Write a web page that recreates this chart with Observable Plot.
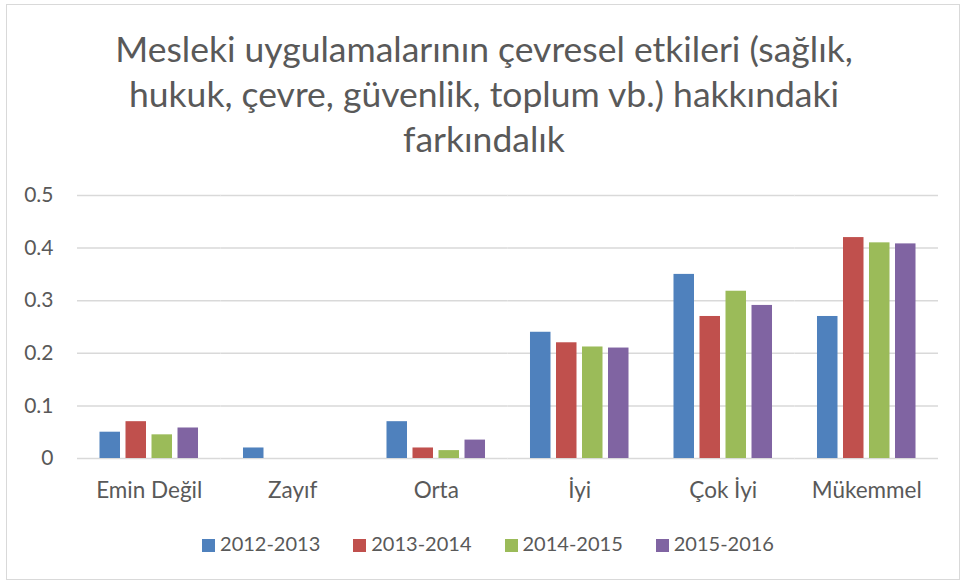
<!DOCTYPE html>
<html><head><meta charset="utf-8">
<script src="https://cdn.jsdelivr.net/npm/d3@7"></script>
<script src="https://cdn.jsdelivr.net/npm/@observablehq/plot@0.6"></script>
<style>
body{margin:0;background:#fff;}
#wrap{position:relative;width:962px;height:581px;font-family:Lato,sans-serif;color:#595959;overflow:hidden;background:#fff}
#frame{position:absolute;left:6px;top:4px;width:954px;height:576px;border:1.5px solid #d9d9d9;box-sizing:border-box}
#title{position:absolute;left:3px;top:26px;width:962px;text-align:center;font-size:35.5px;line-height:45px;}
#chart{position:absolute;left:0;top:175px}
#legend{position:absolute;left:7px;width:962px;top:530px;display:flex;justify-content:center;gap:33px;font-size:20px;line-height:26px}
#legend .sw{display:inline-block;width:13px;height:13px;margin-right:5px;vertical-align:-1px}
</style></head>
<body>
<div id="wrap">
  <div id="frame"></div>
  <div id="title"></div>
  <div id="chart"></div>
  <div id="legend"></div>
</div>
<script>
const titleLines = ["Mesleki uygulamalarının çevresel etkileri (sağlık,", "hukuk, çevre, güvenlik, toplum vb.) hakkındaki", "farkındalık"];
const categories = ["Emin Değil", "Zayıf", "Orta", "İyi", "Çok İyi", "Mükemmel"];
const years = ["2012-2013", "2013-2014", "2014-2015", "2015-2016"];
const values2012 = [0.05, 0.02, 0.07, 0.24, 0.35, 0.27];
const values2013 = [0.07, 0, 0.02, 0.22, 0.27, 0.42];
const values2014 = [0.045, 0, 0.015, 0.212, 0.318, 0.41];
const values2015 = [0.058, 0, 0.035, 0.21, 0.291, 0.408];
const yTicks = [0, 0.1, 0.2, 0.3, 0.4, 0.5];
const colors = ["#4F81BD", "#C0504D", "#9BBB59", "#8064A2"];

const series = [values2012, values2013, values2014, values2015];
const rows = [];
categories.forEach((c, i) => series.forEach((s, j) => rows.push({category: c, year: years[j], value: s[i]})));

document.getElementById("title").innerHTML = titleLines.join("<br>");

const chart = Plot.plot({
  width: 962, height: 333,
  marginLeft: 77, marginRight: 24, marginTop: 20, marginBottom: 50,
  style: {fontFamily: "Lato, sans-serif", fontSize: "21px", color: "#595959", background: "transparent", overflow: "visible"},
  fx: {domain: categories, padding: 0, round: false, label: null, axis: "bottom", tickSize: 0, tickPadding: 24},
  x: {domain: years, axis: null, round: false, paddingInner: 0.2115, paddingOuter: 0.865},
  y: {domain: [0, 0.5], ticks: yTicks, tickFormat: d => d === 0 ? "0" : String(d), tickSize: 0, tickPadding: 24, label: null},
  color: {domain: years, range: colors},
  marks: [
    Plot.ruleY(yTicks, {stroke: "#d9d9d9", strokeWidth: 1.5}),
    Plot.barY(rows, {fx: "category", x: "year", y: "value", fill: "year"})
  ]
});
document.getElementById("chart").appendChild(chart);
chart.querySelectorAll("g[aria-label='fx-axis tick label'] text, g[aria-label='fx-axis tick label']").forEach(el => el.style.fontSize = "22.5px");

const legend = document.getElementById("legend");
years.forEach((y, i) => {
  const item = document.createElement("span");
  item.innerHTML = `<span class="sw" style="background:${colors[i]}"></span>${y}`;
  legend.appendChild(item);
});
</script>
</body></html>
